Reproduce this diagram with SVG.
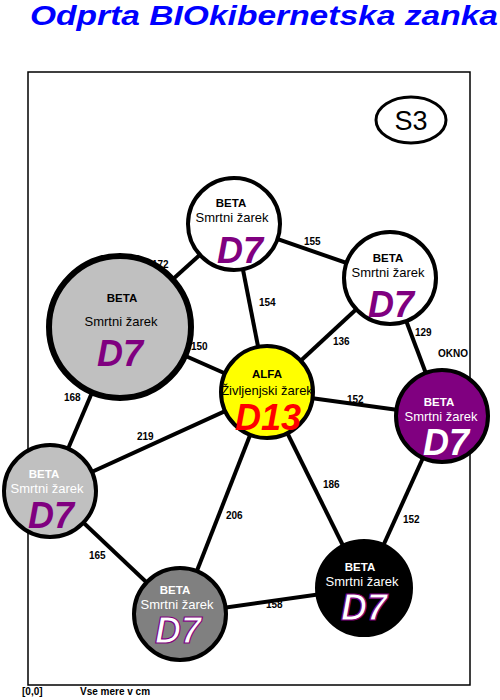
<svg xmlns="http://www.w3.org/2000/svg" width="500" height="700" viewBox="0 0 500 700">
<style>
.lnk{stroke:#000;stroke-width:4;fill:none}
.lbl{font-family:"Liberation Sans",Arial,sans-serif;font-size:10px;font-weight:bold;fill:#000}
.nd{stroke:#000;stroke-width:4}
.t1{font-family:"Liberation Sans",Arial,sans-serif;font-size:11.5px;font-weight:bold;text-anchor:middle}
.t2{font-family:"Liberation Sans",Arial,sans-serif;font-size:13px;text-anchor:middle}
.big{font-family:"Liberation Sans",Arial,sans-serif;font-size:36px;font-weight:bold;font-style:italic;text-anchor:middle}
.blk{fill:#000}.wht{fill:#fff}.pur{fill:#800080}
.out{fill:#fff;stroke:#800080;stroke-width:1.2}
</style>
<rect width="500" height="700" fill="#fff"/>
<text x="30" y="25" font-family="Liberation Sans,Arial,sans-serif" font-size="28" font-weight="bold" font-style="italic" fill="#0000ff" textLength="468" lengthAdjust="spacingAndGlyphs">Odprta BIOkibernetska zanka</text>
<rect x="28" y="72" width="442" height="613" fill="none" stroke="#000" stroke-width="1.5"/>
<g id="s3">
<ellipse cx="411" cy="120" rx="35" ry="23" fill="#fff" stroke="#000" stroke-width="3"/>
<text x="411" y="130" font-family="Liberation Sans,Arial,sans-serif" font-size="27" text-anchor="middle">S3</text>
</g>
<g id="connectors">
<line class="lnk" x1="234" y1="224" x2="390" y2="278"/>
<line class="lnk" x1="234" y1="224" x2="267" y2="392"/>
<line class="lnk" x1="234" y1="224" x2="120" y2="327"/>
<line class="lnk" x1="120" y1="327" x2="267" y2="392"/>
<line class="lnk" x1="390" y1="278" x2="267" y2="392"/>
<line class="lnk" x1="390" y1="278" x2="442" y2="416"/>
<line class="lnk" x1="267" y1="392" x2="442" y2="416"/>
<line class="lnk" x1="120" y1="327" x2="50" y2="491"/>
<line class="lnk" x1="267" y1="392" x2="50" y2="491"/>
<line class="lnk" x1="267" y1="392" x2="180" y2="614"/>
<line class="lnk" x1="267" y1="392" x2="364" y2="588"/>
<line class="lnk" x1="442" y1="416" x2="364" y2="588"/>
<line class="lnk" x1="50" y1="491" x2="180" y2="614"/>
<line class="lnk" x1="180" y1="614" x2="364" y2="588"/>
<text class="lbl" x="152" y="268">172</text>
<text class="lbl" x="304" y="245">155</text>
<text class="lbl" x="259" y="306">154</text>
<text class="lbl" x="191" y="350">150</text>
<text class="lbl" x="333" y="345">136</text>
<text class="lbl" x="415" y="336">129</text>
<text class="lbl" x="347" y="403">152</text>
<text class="lbl" x="64" y="401">168</text>
<text class="lbl" x="137" y="440">219</text>
<text class="lbl" x="226" y="519">206</text>
<text class="lbl" x="323" y="488">186</text>
<text class="lbl" x="403" y="523">152</text>
<text class="lbl" x="89" y="559">165</text>
<text class="lbl" x="266" y="608">158</text>
</g>
<g id="n-top">
<circle class="nd" cx="234" cy="224" r="46" fill="#fff"/>
<text class="t1 blk" x="231" y="207">BETA</text>
<text class="t2 blk" x="232" y="222">Smrtni žarek</text>
<text class="big pur" x="240" y="263">D7</text>
</g>
<g id="n-righttop">
<circle class="nd" cx="390" cy="278" r="46" fill="#fff"/>
<text class="t1 blk" x="388" y="262">BETA</text>
<text class="t2 blk" x="388" y="277">Smrtni žarek</text>
<text class="big pur" x="391" y="317">D7</text>
</g>
<g id="n-large">
<circle cx="120" cy="327" r="71" fill="#c0c0c0" stroke="#000" stroke-width="6"/>
<text class="t1 blk" x="122" y="302">BETA</text>
<text class="t2 blk" x="121" y="326">Smrtni žarek</text>
<text class="big pur" x="120" y="366">D7</text>
</g>
<g id="n-alfa">
<circle class="nd" cx="267" cy="392" r="46" fill="#ffff00"/>
<text class="t1 blk" x="267" y="378">ALFA</text>
<text class="t2 blk" x="267" y="395">Življenjski žarek</text>
<text class="big" x="268" y="430" fill="#ff0000" font-size="35">D13</text>
</g>
<g id="n-purple">
<circle class="nd" cx="442" cy="416" r="46" fill="#800080"/>
<text class="t1 wht" x="439" y="406">BETA</text>
<text class="t2 wht" x="441" y="421">Smrtni žarek</text>
<text class="big wht" x="446" y="455">D7</text>
</g>
<g id="n-left">
<circle class="nd" cx="50" cy="491" r="46" fill="#c0c0c0"/>
<text class="t1 wht" x="44" y="478">BETA</text>
<text class="t2 wht" x="47" y="493">Smrtni žarek</text>
<text class="big pur" x="51" y="528">D7</text>
</g>
<g id="n-bottom">
<circle class="nd" cx="180" cy="614" r="46" fill="#808080"/>
<text class="t1 wht" x="175" y="594">BETA</text>
<text class="t2 wht" x="177" y="609">Smrtni žarek</text>
<text class="big out" x="178" y="643" font-size="35">D7</text>
</g>
<g id="n-black">
<circle class="nd" cx="364" cy="588" r="47" fill="#000"/>
<text class="t1 wht" x="360" y="571">BETA</text>
<text class="t2 wht" x="362" y="586">Smrtni žarek</text>
<text class="big out" x="364" y="620">D7</text>
</g>
<text class="lbl" x="438" y="357">OKNO</text>
<text class="lbl" x="22" y="695" font-size="9">[0,0]</text>
<text class="lbl" x="80" y="695" font-size="9">Vse mere v cm</text>
</svg>
